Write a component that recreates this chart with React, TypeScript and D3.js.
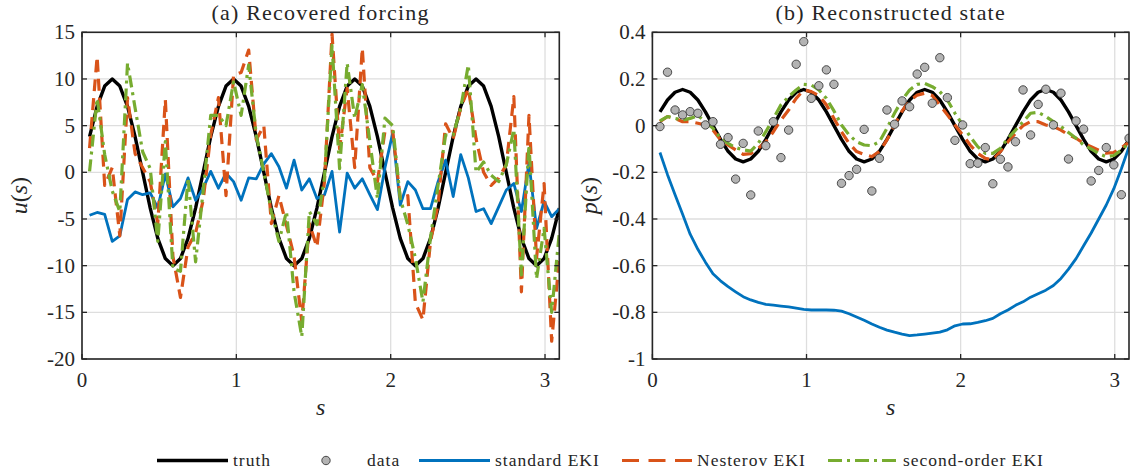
import React from 'react';
import * as d3 from 'd3';

// Spatial grid s_k = k*pi/64, k = 1..63
const sGrid = [
  0.049, 0.098, 0.147, 0.196, 0.245, 0.295, 0.344, 0.393, 0.442, 0.491,
  0.540, 0.589, 0.638, 0.687, 0.736, 0.785, 0.834, 0.884, 0.933, 0.982,
  1.031, 1.080, 1.129, 1.178, 1.227, 1.276, 1.325, 1.374, 1.424, 1.473,
  1.522, 1.571, 1.620, 1.669, 1.718, 1.767, 1.816, 1.865, 1.914, 1.963,
  2.013, 2.062, 2.111, 2.160, 2.209, 2.258, 2.307, 2.356, 2.405, 2.454,
  2.503, 2.553, 2.602, 2.651, 2.700, 2.749, 2.798, 2.847, 2.896, 2.945,
  2.994, 3.043, 3.093,
];
const sMax = 3.0925;

// Forcing u(s)
const uTruth = [
  3.83, 7.07, 9.24, 10, 9.24, 7.07, 3.83, 0, -3.83, -7.07, -9.24, -10, -9.24, -7.07, -3.83, 0,
  3.83, 7.07, 9.24, 10, 9.24, 7.07, 3.83, 0, -3.83, -7.07, -9.24, -10, -9.24, -7.07, -3.83, 0,
  3.83, 7.07, 9.24, 10, 9.24, 7.07, 3.83, 0, -3.83, -7.07, -9.24, -10, -9.24, -7.07, -3.83, 0,
  3.83, 7.07, 9.24, 10, 9.24, 7.07, 3.83, 0, -3.83, -7.07, -9.24, -10, -9.24, -7.07, -3.83,
];
const uStandard = [
  -4.6, -4.3, -4.5, -7.4, -6.8, -2.9, -2.1, -2.4, -2.2, -3.8,
  -0.2, -3.7, -2.8, -0.6, -3.0, -1.7, 0.1, -1.7, -0.1, -1.0,
  -3.0, -0.6, -0.7, 0.9, 2.0, 0.6, -1.7, 1.3, -1.9, -0.7,
  -2.8, -2.4, 0.1, -6.4, -0.1, -1.7, -0.7, -2.4, -4.0, 0.5,
  4.2, -3.5, -1.0, -1.9, -3.9, -3.9, -1.0, 1.3, -2.6, 1.9,
  -0.6, -4.2, -3.9, -5.5, -3.7, -1.9, -1.2, -4.2, 1.0, -6.0,
  -3.1, -4.75, -3.9,
];
const uNesterov = [
  2.6, 12.4, -1.4, 0.5, -6.8, 8.0, 2.0, 0.5, -1.0, -5.5,
  7.8, -9.0, -13.4, -8.0, -6.5, -3.0, 4.0, 8.0, -2.5, 10.4,
  10.7, 13.1, 3.5, 5.0, -5.5, -2.5, -5.7, -9.0, -16.0, -5.5,
  -8.0, -1.0, 14.8, 2.5, 9.0, 0.5, 13.3, 0.5, -1.0, 4.4,
  4.4, -2.8, -2.5, -14.0, -15.8, -7.4, -3.5, 5.2, 3.6, 6.9,
  9.0, 3.6, 0.0, -1.4, -0.6, 0.8, 8.1, -12.8, 6.1, -9.2,
  -1.2, -18.1, -9.2,
];
const uSecondOrder = [
  0.1, 7.9, 1.9, -2.0, -4.2, 11.7, 6.9, 2.2, 0.4, -7.4,
  3.3, -10.3, -10.6, -0.6, -9.6, -2.0, 6.1, 6.1, 5.0, 9.7,
  6.1, 11.5, 4.0, 0.0, -4.2, -7.4, -4.2, -12.8, -17.6, -4.2,
  -5.6, -0.6, 13.6, 0.4, 11.7, 5.8, 9.4, 3.3, -2.8, 5.8,
  5.0, -2.8, -5.6, -9.2, -13.9, -7.0, -1.4, 4.0, 4.0, 6.9,
  11.5, 0.0, 1.1, -0.3, -1.0, 0.8, 4.6, -11.0, 2.9, -11.4,
  -6.0, -15.0, -6.4,
];

// State p(s)
const pTruth = [
  0.059, 0.110, 0.143, 0.155, 0.143, 0.110, 0.059, 0, -0.059, -0.110, -0.143, -0.155, -0.143, -0.110, -0.059, 0,
  0.059, 0.110, 0.143, 0.155, 0.143, 0.110, 0.059, 0, -0.059, -0.110, -0.143, -0.155, -0.143, -0.110, -0.059, 0,
  0.059, 0.110, 0.143, 0.155, 0.143, 0.110, 0.059, 0, -0.059, -0.110, -0.143, -0.155, -0.143, -0.110, -0.059, 0,
  0.059, 0.110, 0.143, 0.155, 0.143, 0.110, 0.059, 0, -0.059, -0.110, -0.143, -0.155, -0.143, -0.110, -0.059,
];
const pData = [
  -0.004, 0.229, 0.067, 0.046, 0.060, 0.053, 0.003, 0.017, -0.080, -0.051,
  -0.229, -0.076, -0.297, -0.023, -0.086, 0.017, -0.137, -0.019, 0.263, 0.360,
  0.117, 0.171, 0.239, 0.177, -0.247, -0.214, -0.187, -0.016, -0.280, -0.140,
  0.067, 0.006, 0.106, 0.081, 0.221, 0.250, 0.096, 0.291, 0.120, -0.063,
  0.003, -0.163, -0.161, -0.094, -0.249, -0.144, -0.177, -0.069, 0.153, -0.040,
  0.091, 0.156, 0.003, 0.139, -0.143, 0.020, -0.015, -0.237, -0.192, -0.094,
  -0.168, -0.296, -0.054,
];
const pStandard = [
  -0.115, -0.210, -0.296, -0.380, -0.465, -0.530, -0.585, -0.635, -0.665, -0.690,
  -0.712, -0.733, -0.747, -0.757, -0.766, -0.769, -0.773, -0.777, -0.782, -0.787,
  -0.790, -0.790, -0.790, -0.791, -0.795, -0.806, -0.820, -0.834, -0.850, -0.864,
  -0.876, -0.885, -0.893, -0.900, -0.897, -0.893, -0.889, -0.885, -0.875, -0.858,
  -0.850, -0.849, -0.843, -0.836, -0.826, -0.806, -0.790, -0.770, -0.755, -0.735,
  -0.720, -0.705, -0.685, -0.655, -0.615, -0.570, -0.515, -0.460, -0.400, -0.340,
  -0.270, -0.185, -0.090,
];
const pNesterov = [
  0.017, 0.039, 0.031, 0.017, 0.017, 0.010, 0.003, -0.019, -0.061, -0.083,
  -0.104, -0.123, -0.120, -0.097, -0.069, -0.026, 0.024, 0.067, 0.117, 0.153,
  0.146, 0.129, 0.089, 0.031, -0.026, -0.076, -0.111, -0.123, -0.133, -0.111,
  -0.061, 0.003, 0.063, 0.106, 0.131, 0.139, 0.129, 0.089, 0.046, 0.003,
  -0.040, -0.083, -0.119, -0.140, -0.147, -0.111, -0.069, -0.033, 0.000, 0.017,
  0.017, 0.003, -0.004, -0.019, -0.040, -0.054, -0.076, -0.090, -0.105, -0.118,
  -0.115, -0.095, -0.070,
];
const pSecondOrder = [
  0.020, 0.039, 0.031, 0.024, 0.031, 0.043, 0.017, -0.011, -0.054, -0.076,
  -0.094, -0.104, -0.109, -0.076, -0.026, 0.031, 0.089, 0.124, 0.153, 0.177,
  0.174, 0.153, 0.117, 0.063, 0.003, -0.040, -0.069, -0.083, -0.086, -0.069,
  -0.011, 0.053, 0.110, 0.153, 0.177, 0.181, 0.167, 0.146, 0.110, 0.053,
  0.003, -0.047, -0.090, -0.119, -0.119, -0.097, -0.054, -0.019, 0.017, 0.053,
  0.057, 0.039, 0.017, -0.004, -0.029, -0.054, -0.083, -0.100, -0.120, -0.133,
  -0.128, -0.105, -0.075,
];

const sTicks = [0, 1, 2, 3];
const uTicks = [-20, -15, -10, -5, 0, 5, 10, 15];
const uTickLabels = ['-20', '-15', '-10', '-5', '0', '5', '10', '15'];
const pTicks = [-1, -0.8, -0.6, -0.4, -0.2, 0, 0.2, 0.4];
const pTickLabels = ['-1', '-0.8', '-0.6', '-0.4', '-0.2', '0', '0.2', '0.4'];

const legendLabels = ['truth', 'data', 'standard EKI', 'Nesterov EKI', 'second-order EKI'];

const FONT = 'Liberation Serif';
const AXIS_COLOR = '#262626';
const GRID_COLOR = '#dedede';
const C_TRUTH = '#000000';
const C_STD = '#0072BD';
const C_NES = '#D95319';
const C_SEC = '#77AC30';
const DASH_NES = '12 7';
const DASH_SEC = '12 5 3 5';

const txt = (size: number, extra: React.CSSProperties = {}): React.CSSProperties => ({
  fontFamily: FONT,
  fontSize: size,
  fill: AXIS_COLOR,
  ...extra,
});

type Series = { values: number[]; color: string; width: number; dash?: string };

type PanelProps = {
  id: string;
  x0: number;
  x1: number;
  y0: number;
  y1: number;
  yDomain: [number, number];
  yTicks: number[];
  yTickLabels: string[];
  title: string;
  yVar: string;
  lines: Series[];
  dots?: number[];
};

function Panel({ id, x0, x1, y0, y1, yDomain, yTicks, yTickLabels, title, yVar, lines, dots }: PanelProps) {
  const x = d3.scaleLinear().domain([0, sMax]).range([x0, x1]);
  const y = d3.scaleLinear().domain(yDomain).range([y1, y0]);
  const line = d3
    .line<number>()
    .x((_, i) => x(sGrid[i]))
    .y((d) => y(d));
  const tickLen = 5;
  const cx = (x0 + x1) / 2;
  const cy = (y0 + y1) / 2;

  return (
    <g>
      <defs>
        <clipPath id={id}>
          <rect x={x0} y={y0} width={x1 - x0} height={y1 - y0} />
        </clipPath>
      </defs>
      {/* grid */}
      {sTicks.map((t) => (
        <line key={'gx' + t} x1={x(t)} x2={x(t)} y1={y0} y2={y1} stroke={GRID_COLOR} strokeWidth={1.3} />
      ))}
      {yTicks.map((t) => (
        <line key={'gy' + t} x1={x0} x2={x1} y1={y(t)} y2={y(t)} stroke={GRID_COLOR} strokeWidth={1.3} />
      ))}
      {/* series */}
      <g clipPath={`url(#${id})`}>
        {lines.map((s, i) => (
          <path
            key={i}
            d={line(s.values) || ''}
            fill="none"
            stroke={s.color}
            strokeWidth={s.width}
            strokeDasharray={s.dash}
            strokeLinejoin="round"
          />
        ))}
        {dots &&
          dots.map((v, i) => (
            <circle key={'d' + i} cx={x(sGrid[i])} cy={y(v)} r={4.2} fill="#b3b3b3" stroke="#3a3a3a" strokeWidth={0.9} />
          ))}
      </g>
      {/* box and ticks */}
      <rect x={x0} y={y0} width={x1 - x0} height={y1 - y0} fill="none" stroke={AXIS_COLOR} strokeWidth={1.6} />
      {sTicks.map((t) => (
        <g key={'tx' + t}>
          <line x1={x(t)} x2={x(t)} y1={y1} y2={y1 - tickLen} stroke={AXIS_COLOR} strokeWidth={1.3} />
          <line x1={x(t)} x2={x(t)} y1={y0} y2={y0 + tickLen} stroke={AXIS_COLOR} strokeWidth={1.3} />
          <text x={x(t)} y={y1 + 28} textAnchor="middle" style={txt(21)}>
            {t}
          </text>
        </g>
      ))}
      {yTicks.map((t, i) => (
        <g key={'ty' + t}>
          <line x1={x0} x2={x0 + tickLen} y1={y(t)} y2={y(t)} stroke={AXIS_COLOR} strokeWidth={1.3} />
          <line x1={x1} x2={x1 - tickLen} y1={y(t)} y2={y(t)} stroke={AXIS_COLOR} strokeWidth={1.3} />
          <text x={x0 - 7} y={y(t) + 7} textAnchor="end" style={txt(21)}>
            {yTickLabels[i]}
          </text>
        </g>
      ))}
      {/* labels */}
      <text x={cx} y={20} textAnchor="middle" style={txt(22, { letterSpacing: 1.2 })}>
        {title}
      </text>
      <text x={cx} y={y1 + 56} textAnchor="middle" style={txt(24, { fontStyle: 'italic' })}>
        s
      </text>
      <text transform={`translate(${x0 - 55},${cy}) rotate(-90)`} textAnchor="middle" style={txt(24)}>
        <tspan style={{ fontStyle: 'italic' }}>{yVar}</tspan>
        <tspan>(</tspan>
        <tspan style={{ fontStyle: 'italic' }}>s</tspan>
        <tspan>)</tspan>
      </text>
    </g>
  );
}

function Legend() {
  const y = 460.5;
  const ty = 466;
  const st = txt(17.5, { letterSpacing: 1 });
  return (
    <g>
      <line x1={157} x2={228} y1={y} y2={y} stroke={C_TRUTH} strokeWidth={3.4} />
      <text x={233} y={ty} style={st}>{legendLabels[0]}</text>
      <circle cx={326} cy={y} r={4.2} fill="#b3b3b3" stroke="#3a3a3a" strokeWidth={0.9} />
      <text x={367} y={ty} style={st}>{legendLabels[1]}</text>
      <line x1={419} x2={490} y1={y} y2={y} stroke={C_STD} strokeWidth={3} />
      <text x={495} y={ty} style={st}>{legendLabels[2]}</text>
      <line x1={622} x2={692} y1={y} y2={y} stroke={C_NES} strokeWidth={3.2} strokeDasharray="17 9.5" />
      <text x={697} y={ty} style={st}>{legendLabels[3]}</text>
      <line x1={828} x2={896} y1={y} y2={y} stroke={C_SEC} strokeWidth={3.2} strokeDasharray="14 5 3 5" />
      <text x={903} y={ty} style={st}>{legendLabels[4]}</text>
    </g>
  );
}

export default function App() {
  return (
    <svg
      width={1130}
      height={472}
      viewBox="0 0 1130 472"
      style={{ position: 'absolute', left: 0, top: 0, background: '#ffffff' }}
    >
      <rect width={1130} height={472} fill="#ffffff" />
      <Panel
        id="clipA"
        x0={82}
        x1={559.3}
        y0={32.3}
        y1={359}
        yDomain={[-20, 15]}
        yTicks={uTicks}
        yTickLabels={uTickLabels}
        title="(a) Recovered forcing"
        yVar="u"
        lines={[
          { values: uTruth, color: C_TRUTH, width: 3.4 },
          { values: uStandard, color: C_STD, width: 2.8 },
          { values: uNesterov, color: C_NES, width: 3.2, dash: DASH_NES },
          { values: uSecondOrder, color: C_SEC, width: 3.2, dash: DASH_SEC },
        ]}
      />
      <Panel
        id="clipB"
        x0={652.4}
        x1={1129}
        y0={32.3}
        y1={359}
        yDomain={[-1, 0.4]}
        yTicks={pTicks}
        yTickLabels={pTickLabels}
        title="(b) Reconstructed state"
        yVar="p"
        lines={[
          { values: pTruth, color: C_TRUTH, width: 3.4 },
          { values: pStandard, color: C_STD, width: 2.8 },
          { values: pNesterov, color: C_NES, width: 3.2, dash: DASH_NES },
          { values: pSecondOrder, color: C_SEC, width: 3.2, dash: DASH_SEC },
        ]}
        dots={pData}
      />
      <Legend />
    </svg>
  );
}
